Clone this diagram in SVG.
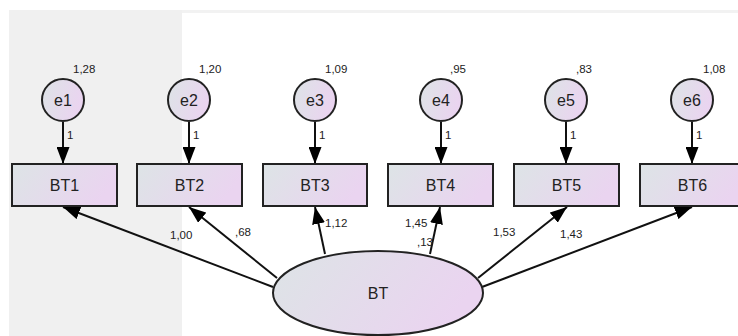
<svg xmlns="http://www.w3.org/2000/svg" width="738" height="336" viewBox="0 0 738 336">
<defs>
<linearGradient id="g" x1="0" y1="0" x2="1" y2="0.3">
<stop offset="0" stop-color="#dde4e6"/>
<stop offset="1" stop-color="#ead4f0"/>
</linearGradient>
<marker id="ah" markerUnits="userSpaceOnUse" markerWidth="17" markerHeight="13" viewBox="0 0 17 13" refX="17" refY="6.5" orient="auto">
<path d="M0,0 L17,6.5 L0,13 Z" fill="#000"/>
</marker>
</defs>
<style>
.n{fill:url(#g);stroke:#222;stroke-width:2}
.t{font-family:"Liberation Sans",Arial,sans-serif;font-size:16px;fill:#222;text-anchor:middle}
.s{font-family:"Liberation Sans",Arial,sans-serif;font-size:11.5px;fill:#222}
.c line{stroke:#111;stroke-width:2;marker-end:url(#ah)}
</style>
<rect x="0" y="0" width="738" height="336" fill="#fff"/>
<rect x="9" y="10" width="173" height="326" fill="#f0f0f0"/>
<rect x="182" y="10" width="556" height="3" fill="#f2f2f2"/>

<g class="c" id="connectors">
<line x1="63" y1="122" x2="63" y2="164"/>
<line x1="189" y1="122" x2="189" y2="164"/>
<line x1="315" y1="122" x2="315" y2="164"/>
<line x1="441" y1="122" x2="441" y2="164"/>
<line x1="566" y1="122" x2="566" y2="164"/>
<line x1="692" y1="122" x2="692" y2="164"/>
<line x1="273" y1="287" x2="63" y2="207"/>
<line x1="277" y1="278" x2="189" y2="207"/>
<line x1="325" y1="254" x2="315" y2="207"/>
<line x1="430" y1="254" x2="440" y2="207"/>
<line x1="478" y1="278" x2="567" y2="207"/>
<line x1="482" y1="287" x2="692" y2="207"/>
</g>

<g id="e1"><circle class="n" cx="63" cy="100" r="21"/><text class="t" x="63" y="106">e1</text><text class="s" x="73" y="73">1,28</text><text class="s" x="67" y="139">1</text></g>
<g id="e2"><circle class="n" cx="189" cy="100" r="21"/><text class="t" x="189" y="106">e2</text><text class="s" x="199" y="73">1,20</text><text class="s" x="193" y="139">1</text></g>
<g id="e3"><circle class="n" cx="315" cy="100" r="21"/><text class="t" x="315" y="106">e3</text><text class="s" x="325" y="73">1,09</text><text class="s" x="319" y="139">1</text></g>
<g id="e4"><circle class="n" cx="441" cy="100" r="21"/><text class="t" x="441" y="106">e4</text><text class="s" x="450" y="73">,95</text><text class="s" x="445" y="139">1</text></g>
<g id="e5"><circle class="n" cx="566" cy="100" r="21"/><text class="t" x="566" y="106">e5</text><text class="s" x="576" y="73">,83</text><text class="s" x="570" y="139">1</text></g>
<g id="e6"><circle class="n" cx="692" cy="100" r="21"/><text class="t" x="692" y="106">e6</text><text class="s" x="703" y="73">1,08</text><text class="s" x="696" y="139">1</text></g>

<g id="BT1"><rect class="n" x="12" y="164" width="105" height="42"/><text class="t" x="64.5" y="191">BT1</text></g>
<g id="BT2"><rect class="n" x="137" y="164" width="105" height="42"/><text class="t" x="189.5" y="191">BT2</text></g>
<g id="BT3"><rect class="n" x="263" y="164" width="104" height="42"/><text class="t" x="315" y="191">BT3</text></g>
<g id="BT4"><rect class="n" x="388" y="164" width="105" height="42"/><text class="t" x="440.5" y="191">BT4</text></g>
<g id="BT5"><rect class="n" x="514" y="164" width="105" height="42"/><text class="t" x="566.5" y="191">BT5</text></g>
<g id="BT6"><rect class="n" x="640" y="164" width="105" height="42"/><text class="t" x="692.5" y="191">BT6</text></g>

<g id="BT"><ellipse class="n" cx="378" cy="293" rx="105" ry="42"/><text class="t" x="378" y="299">BT</text></g>

<g id="loadings">
<text class="s" x="170" y="239">1,00</text>
<text class="s" x="235" y="236">,68</text>
<text class="s" x="325" y="227">1,12</text>
<text class="s" x="405" y="227">1,45</text>
<text class="s" x="417" y="246">,13</text>
<text class="s" x="493" y="236">1,53</text>
<text class="s" x="560" y="238">1,43</text>
</g>
</svg>
